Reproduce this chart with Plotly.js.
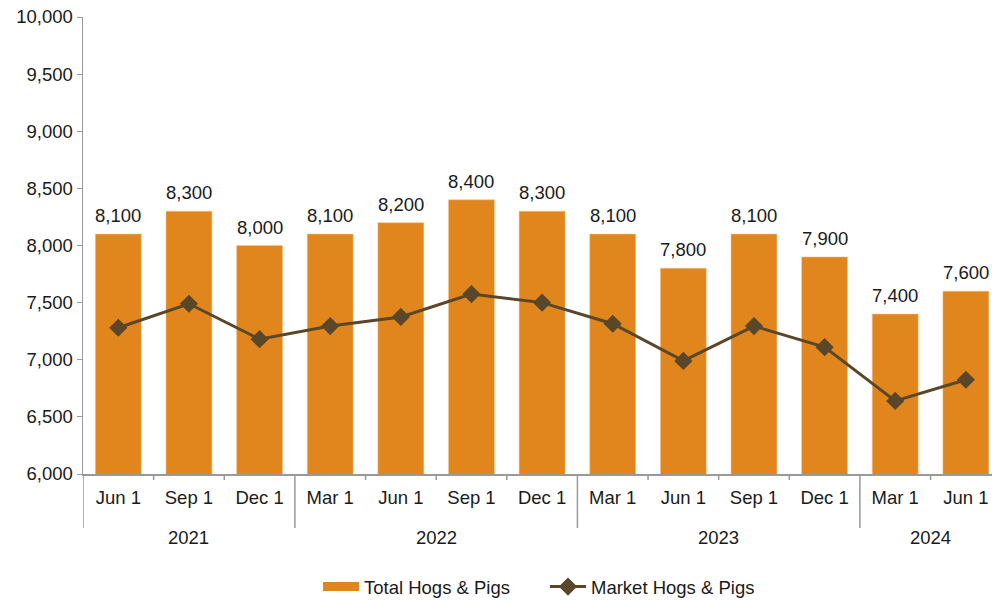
<!DOCTYPE html>
<html>
<head>
<meta charset="utf-8">
<script src="https://cdn.plot.ly/plotly-3.0.1.min.js"></script>
<style>html,body{margin:0;padding:0;background:#fff}#chart{width:992px;height:600px}</style>
</head>
<body>
<div id="chart"></div>
<script>
const years = ["2021","2021","2021","2022","2022","2022","2022","2023","2023","2023","2023","2024","2024"];
const months = ["Jun 1","Sep 1","Dec 1","Mar 1","Jun 1","Sep 1","Dec 1","Mar 1","Jun 1","Sep 1","Dec 1","Mar 1","Jun 1"];
const totalHogs = [8100,8300,8000,8100,8200,8400,8300,8100,7800,8100,7900,7400,7600];
const marketHogs = [7280,7490,7180,7295,7375,7575,7500,7315,6990,7295,7110,6640,6825];

const font = "Liberation Sans, Arial, sans-serif";
const fs = 18.5;
const axisGray = "#999999";
const barColor = "#E0861C";
const lineColor = "#5A4628";

// unique category keys, labelled with month names
const keys = years.map((y, i) => y + " " + months[i]);

const traces = [
  {
    type: "bar",
    name: "Total Hogs & Pigs",
    x: keys,
    y: totalHogs,
    showlegend: false,
    marker: {color: barColor, line: {color: "#F2C38A", width: 0.5}},
    hoverinfo: "none"
  },
  {
    // legend entry for the bars (wide swatch)
    type: "scatter",
    mode: "lines",
    name: "Total Hogs & Pigs",
    x: [keys[0]],
    y: [null],
    line: {color: barColor, width: 9},
    hoverinfo: "none"
  },
  {
    type: "scatter",
    mode: "lines+markers",
    name: "Market Hogs & Pigs",
    x: keys,
    y: marketHogs,
    line: {color: lineColor, width: 3},
    marker: {symbol: "diamond", size: 14, color: lineColor},
    hoverinfo: "none"
  }
];

// axis decorations derived from category indices
const plotH = 600 - 17 - 126;
const shapes = [];
const annotations = [];
const groups = [];
years.forEach((y, i) => {
  if (!groups.length || groups[groups.length - 1].year !== y) groups.push({year: y, start: i, end: i});
  else groups[groups.length - 1].end = i;
});
const boundaries = [];
groups.forEach(g => boundaries.push(g.start - 0.5));
for (let i = 0; i < years.length - 1; i++) {
  const b = i + 0.5;
  const isDivider = boundaries.includes(b);
  shapes.push({
    type: "line", xref: "x", yref: "paper",
    x0: b, x1: b, y0: 0, y1: isDivider ? -54 / plotH : -6 / plotH,
    line: {color: axisGray, width: 1.5}
  });
}
shapes.push({
  type: "line", xref: "x", yref: "paper",
  x0: -0.5, x1: -0.5, y0: 0, y1: -54 / plotH,
  line: {color: axisGray, width: 1.5}
});
groups.forEach(g => {
  annotations.push({
    xref: "x", yref: "paper",
    x: (g.start + g.end) / 2, y: -63 / plotH,
    text: g.year, showarrow: false,
    xanchor: "center", yanchor: "middle",
    font: {family: font, size: fs, color: "#1a1a1a"}
  });
});
// bar value labels
totalHogs.forEach((v, i) => {
  annotations.push({
    xref: "x", yref: "y",
    x: keys[i], y: v,
    text: v.toLocaleString("en-US"),
    showarrow: false,
    xanchor: "center", yanchor: "bottom",
    yshift: 6,
    font: {family: font, size: fs, color: "#1a1a1a"}
  });
});

const layout = {
  width: 992,
  height: 600,
  margin: {l: 83, r: 0, t: 17, b: 126, autoexpand: false},
  paper_bgcolor: "#fff",
  plot_bgcolor: "#fff",
  font: {family: font, size: fs, color: "#1a1a1a"},
  bargap: 0.35,
  showlegend: true,
  legend: {
    orientation: "h",
    xref: "container", yref: "container",
    x: 318 / 992, xanchor: "left",
    y: 13 / 600, yanchor: "middle",
    font: {size: fs}, itemwidth: 36, entrywidth: 176, traceorder: "normal"
  },
  shapes: shapes,
  annotations: annotations,
  xaxis: {
    type: "category",
    range: [-0.5, 12.37],
    tickmode: "array",
    tickvals: keys,
    ticktext: months,
    showline: true,
    linecolor: axisGray,
    linewidth: 1.5,
    ticks: "",
    ticklabelstandoff: 6,
    tickfont: {size: fs},
    showgrid: false
  },
  yaxis: {
    range: [6000, 10000],
    dtick: 500,
    tickformat: ",",
    showgrid: false,
    zeroline: false,
    showline: true,
    linecolor: axisGray,
    linewidth: 1.5,
    ticks: "outside",
    tickcolor: axisGray,
    ticklen: 5,
    tickfont: {size: fs}
  }
};

Plotly.newPlot("chart", traces, layout, {displayModeBar: false, staticPlot: true});
</script>
</body>
</html>
